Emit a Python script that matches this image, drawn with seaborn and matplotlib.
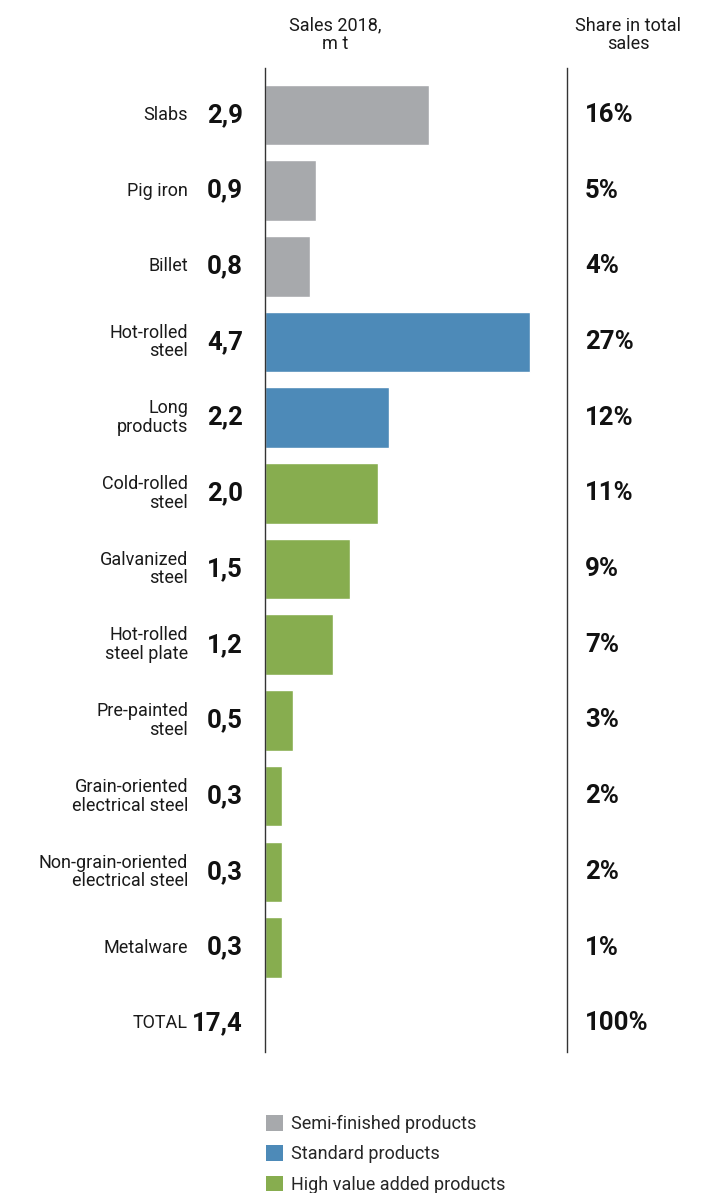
import matplotlib
matplotlib.use("Agg")
import matplotlib.pyplot as plt
from matplotlib import font_manager
from matplotlib.patches import Patch
import seaborn as sns
import pandas as pd

products = ["Slabs", "Pig iron", "Billet", "Hot-rolled\nsteel", "Long\nproducts",
            "Cold-rolled\nsteel", "Galvanized\nsteel", "Hot-rolled\nsteel plate",
            "Pre-painted\nsteel", "Grain-oriented\nelectrical steel",
            "Non-grain-oriented\nelectrical steel", "Metalware"]
sales = [2.9, 0.9, 0.8, 4.7, 2.2, 2.0, 1.5, 1.2, 0.5, 0.3, 0.3, 0.3]
shares = ["16%", "5%", "4%", "27%", "12%", "11%", "9%", "7%", "3%", "2%", "2%", "1%"]
groups = ["Semi-finished products"] * 3 + ["Standard products"] * 2 + ["High value added products"] * 7
total_label = "TOTAL"
total_sales = "17,4"
total_share = "100%"
palette = {"Semi-finished products": "#a7a9ac",
           "Standard products": "#4d8ab8",
           "High value added products": "#87ad4f"}

sns.set_theme(style="white")
names = {f.name for f in font_manager.fontManager.ttflist}
fam = "Liberation Sans Narrow" if "Liberation Sans Narrow" in names else "Roboto"
plt.rcParams["font.family"] = [fam, "DejaVu Sans"]

df = pd.DataFrame({"product": products, "sales": sales, "group": groups})

fig = plt.figure(figsize=(7.27, 11.93), dpi=100)
ax = fig.add_axes([265 / 727, 1 - 1052 / 1193, 302 / 727, (1052 - 68) / 1193])
sns.barplot(data=df, y="product", x="sales", hue="group", palette=palette,
            dodge=False, width=0.8, ax=ax, legend=False, saturation=1)
ax.set_xlim(0, 302 / 56.4)
ax.set_ylim(12.38, -0.62)
ax.set_xlabel("")
ax.set_ylabel("")
ax.set_xticks([])
ax.set_yticks([])
for s in ["top", "bottom"]:
    ax.spines[s].set_visible(False)
for s in ["left", "right"]:
    ax.spines[s].set_color("#333333")
    ax.spines[s].set_linewidth(1.0)

tr_lbl = ax.get_yaxis_transform()
rows = products + [total_label]
vals = [f"{v:.1f}".replace(".", ",") for v in sales] + [total_sales]
shs = shares + [total_share]
for i, (lab, v, sh) in enumerate(zip(rows, vals, shs)):
    y = i
    ax.text(-77 / 302, y, lab, transform=tr_lbl, ha="right", va="center",
            fontsize=13, color="#1a1a1a", linespacing=1.05)
    ax.text(-22 / 302, y, v, transform=tr_lbl, ha="right", va="center",
            fontsize=18.5, fontweight="bold", color="#111111")
    ax.text(1 + 18 / 302, y, sh, transform=tr_lbl, ha="left", va="center",
            fontsize=18.5, fontweight="bold", color="#111111")

fig.text(335 / 727, 1 - 35 / 1193, "Sales 2018,\nm t", ha="center", va="center",
         fontsize=13, color="#1a1a1a", linespacing=1.05)
fig.text(628 / 727, 1 - 35 / 1193, "Share in total\nsales", ha="center", va="center",
         fontsize=13, color="#1a1a1a", linespacing=1.05)

handles = [Patch(facecolor=c, edgecolor="none", label=g) for g, c in palette.items()]
fig.legend(handles=handles, loc="upper left", bbox_to_anchor=(257 / 727, 1 - 1106 / 1193),
           frameon=False, fontsize=13, handlelength=0.95, handleheight=0.95,
           handletextpad=0.45, labelspacing=0.68, borderpad=0)

fig.savefig("out.png", dpi=100)
